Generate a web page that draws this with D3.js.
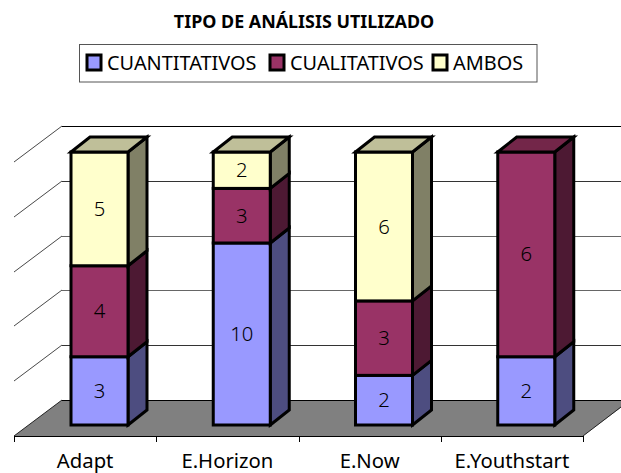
<!DOCTYPE html>
<html><head><meta charset="utf-8">
<script src="https://cdn.jsdelivr.net/npm/d3@7"></script>
<style>html,body{margin:0;padding:0;background:#fff}svg{display:block}text{font-family:"Noto Sans","Open Sans",sans-serif;fill:#000}</style>
</head><body><svg id="c" width="621" height="473"></svg>
<script>
const categories = ["Adapt","E.Horizon","E.Now","E.Youthstart"];
const seriesNames = ["CUANTITATIVOS","CUALITATIVOS","AMBOS"];
const cuantitativos = [3,10,2,2];
const cualitativos = [4,3,3,6];
const ambos = [5,2,6,0];
const colors = ["#9999ff","#993366","#ffffcc"];
const sideColors = ["#4d4d80","#4d1933","#808066"];
const topColors = ["#7373bf","#732649","#bfbf99"];
const gridTicks = [0,0.2,0.4,0.6,0.8,1];
const gridColors = ["#000","#333","#666","#666","#333","#000"];
const title = "TIPO DE ANÁLISIS UTILIZADO";

const svg = d3.select("#c");
const floorY = 436, wallDepth = {dx:48, dy:-36}, barDepth = {dx:19, dy:-15};
const x = d3.scaleBand().domain(categories).range([14,583]).padding(0);
const yFront = d3.scaleLinear().domain([0,1]).range([floorY,162]);
const yBar = d3.scaleLinear().domain([0,1]).range([425,152]);
const barW = 57;
const poly = p => p.map(q=>q.join(",")).join(" ");

// floor
svg.append("polygon")
  .attr("points",poly([[14,floorY],[583,floorY],[621,floorY+wallDepth.dy*38/48],[621,floorY+wallDepth.dy],[14+wallDepth.dx,floorY+wallDepth.dy]]))
  .attr("fill","#808080");
// gridlines
const grid = svg.append("g").attr("fill","none").attr("stroke-width",1).attr("shape-rendering","crispEdges");
gridTicks.forEach((t,i)=>{
  const y0=Math.round(yFront(t)), y1=y0+wallDepth.dy;
  grid.append("line").attr("x1",14+wallDepth.dx).attr("x2",621).attr("y1",y1+.5).attr("y2",y1+.5).attr("stroke",gridColors[i]);
  if(t>0) svg.append("line").attr("x1",14).attr("y1",y0).attr("x2",14+wallDepth.dx).attr("y2",y1).attr("stroke","#333").attr("stroke-width",0.9);
});
svg.append("line").attr("x1",14).attr("y1",floorY).attr("x2",62).attr("y2",400).attr("stroke","#222");
svg.append("line").attr("x1",583).attr("y1",floorY).attr("x2",621).attr("y2",floorY-29).attr("stroke","#222");
// category axis
const axis = svg.append("g").attr("transform",`translate(0,${floorY+.5})`)
  .call(d3.axisBottom(x).tickSize(0).tickPadding(17));
axis.select(".domain").attr("stroke","#000").attr("d","M14,0H583");
axis.selectAll("text").style("font-size","20.3px").attr("fill","#000");
axis.selectAll(".tick line").remove();
d3.range(5).forEach(i=>{
  const px=Math.round(14+x.step()*i)+.5;
  svg.append("line").attr("x1",px).attr("x2",px).attr("y1",floorY).attr("y2",floorY+6).attr("stroke","#000").attr("shape-rendering","crispEdges");
});
// bars
const stack = [cuantitativos,cualitativos,ambos];
categories.forEach((c,i)=>{
  const total = stack.reduce((s,a)=>s+a[i],0);
  const bx = x(c)+57;
  let acc=0;
  const g = svg.append("g").attr("stroke","#000").attr("stroke-width",3).attr("stroke-linejoin","miter");
  const lastIdx = stack.map(a=>a[i]>0).lastIndexOf(true);
  stack.forEach((a,s)=>{
    if(!a[i]) return;
    const y0=yBar(acc/total), y1=yBar((acc+a[i])/total);
    acc+=a[i];
    g.append("polygon").attr("fill",sideColors[s])
      .attr("points",poly([[bx+barW,y0],[bx+barW+barDepth.dx,y0+barDepth.dy],[bx+barW+barDepth.dx,y1+barDepth.dy],[bx+barW,y1]]));
    g.append("rect").attr("x",bx).attr("y",y1).attr("width",barW).attr("height",y0-y1).attr("fill",colors[s]);
    if(s===lastIdx) g.append("polygon").attr("fill",topColors[s])
      .attr("points",poly([[bx,y1],[bx+barDepth.dx,y1+barDepth.dy],[bx+barW+barDepth.dx,y1+barDepth.dy],[bx+barW,y1]]));
    svg.append("text").attr("x",bx+barW/2).attr("y",(y0+y1)/2).attr("dy","0.35em")
      .attr("text-anchor","middle").style("font-size","20.3px").style("font-weight","300").text(a[i]);
  });
});
// title
svg.append("text").attr("x",304).attr("y",28).attr("text-anchor","middle")
  .style("font-size","17.9px").style("font-weight","700").text(title);
// legend
svg.append("rect").attr("x",79.5).attr("y",44.5).attr("width",457.5).attr("height",37.5)
  .attr("fill","#fff").attr("stroke","#555").attr("stroke-width",1);
const legendX = [87,270,433];
seriesNames.forEach((n,i)=>{
  svg.append("rect").attr("x",legendX[i]).attr("y",55).attr("width",14).attr("height",15)
    .attr("fill",colors[i]).attr("stroke","#000").attr("stroke-width",3);
  svg.append("text").attr("x",legendX[i]+20).attr("y",70).style("font-size","19.9px").text(n);
});
</script></body></html>
